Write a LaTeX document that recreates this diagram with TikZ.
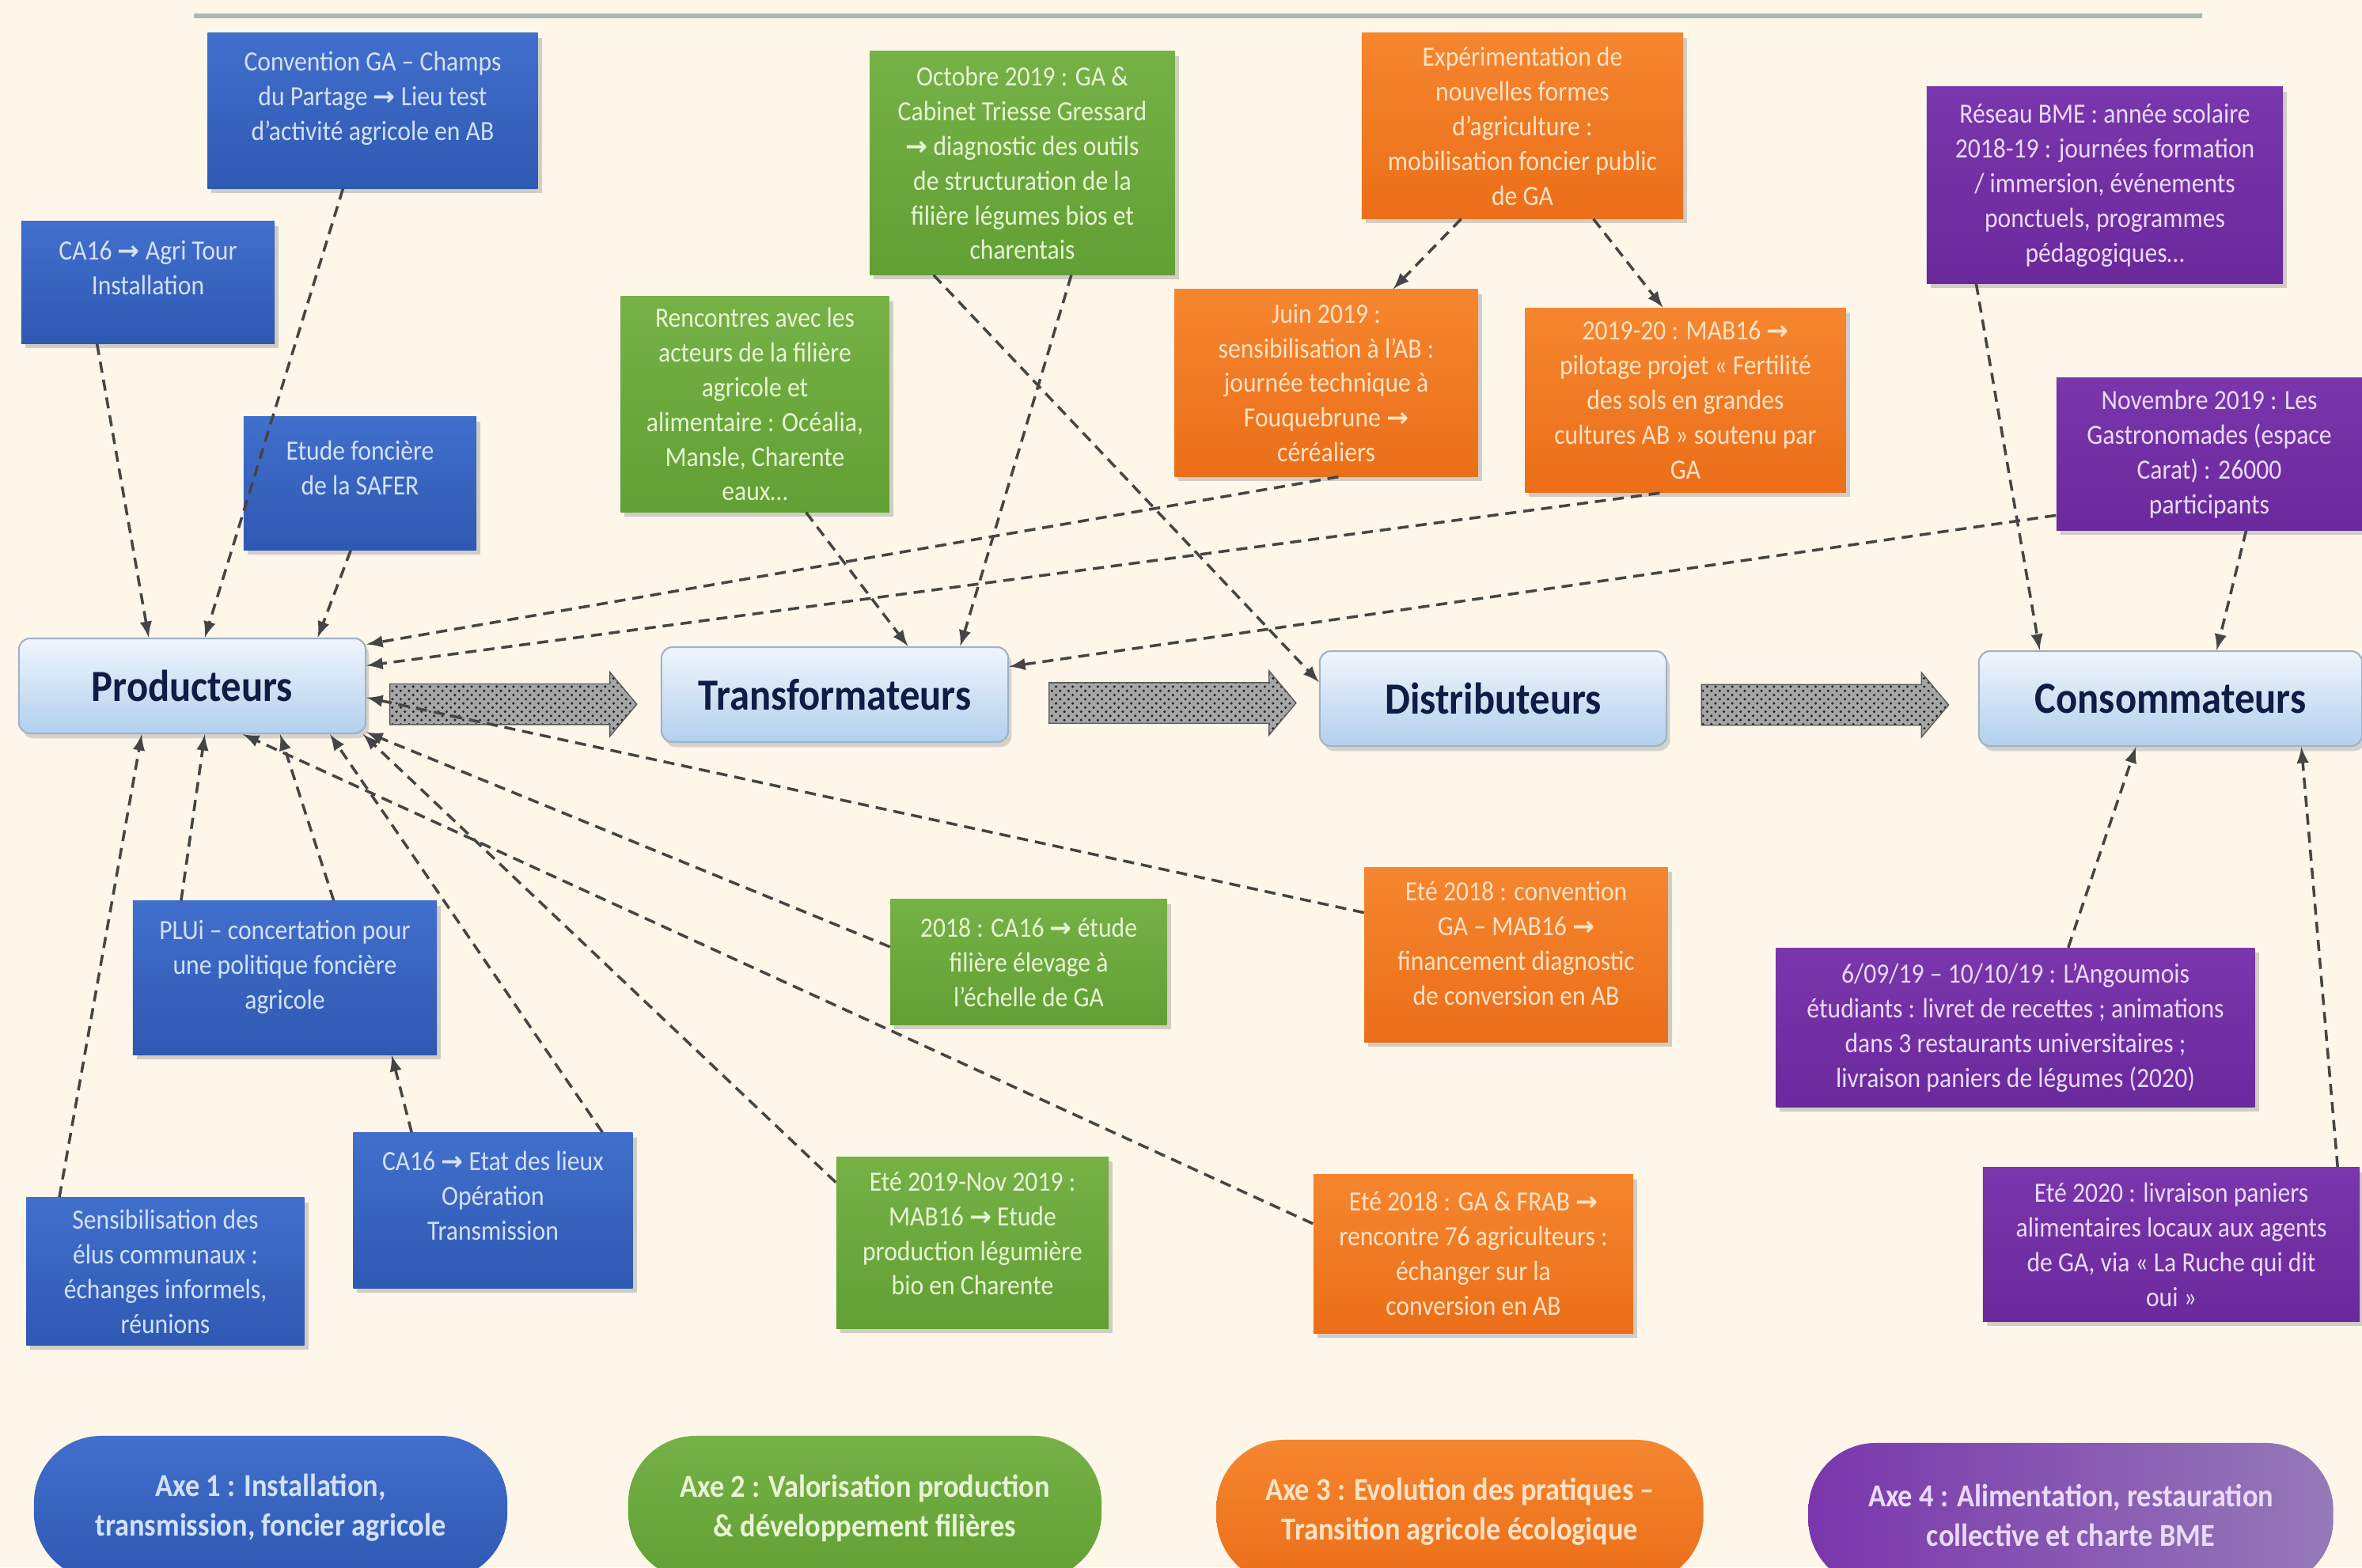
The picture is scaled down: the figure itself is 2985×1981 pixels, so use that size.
\documentclass[tikz,border=0pt]{standalone}
\usepackage{fontspec}
\setmainfont{Carlito}[FakeStretch=0.9]
\newfontfamily\symbfont{DejaVu Sans}
\usepackage{tikz}
\usetikzlibrary{calc}
\usetikzlibrary{shadows}
\usetikzlibrary{shapes.arrows}
\usetikzlibrary{patterns}

\definecolor{fond}{HTML}{FDF6E9}
\definecolor{trait}{HTML}{A9BAB4}
\definecolor{gristrait}{HTML}{454545}
\definecolor{bleuA}{HTML}{416FCC}
\definecolor{bleuB}{HTML}{2E59B3}
\definecolor{vertA}{HTML}{76B146}
\definecolor{vertB}{HTML}{61A034}
\definecolor{orangeA}{HTML}{F5862F}
\definecolor{orangeB}{HTML}{EC6E19}
\definecolor{violetA}{HTML}{7A36AC}
\definecolor{violetB}{HTML}{6A299C}
\definecolor{violetC}{HTML}{957AB8}
\definecolor{txtbleu}{HTML}{D3E1F7}
\definecolor{txtvert}{HTML}{E8F4D6}
\definecolor{txtorange}{HTML}{FDE2C4}
\definecolor{txtviolet}{HTML}{E9DAF7}
\definecolor{acteurHaut}{HTML}{F0F5FC}
\definecolor{acteurBas}{HTML}{B2D0EE}
\definecolor{cadre}{HTML}{9FB2C8}
\definecolor{marine}{HTML}{0F1C44}

\newcommand{\fl}{{\symbfont\bfseries\fontsize{9.5}{10}\selectfont →}}

\tikzset{
  fiche/.style={rectangle, align=center, inner sep=2pt,
    font=\fontsize{10}{12.5}\selectfont,
    drop shadow={shadow xshift=1.4pt, shadow yshift=-1.6pt, opacity=0.35}},
  remonte/.style={text depth=#1},
  axeun/.style={fiche, top color=bleuA, bottom color=bleuB, text=txtbleu},
  axedeux/.style={fiche, top color=vertA, bottom color=vertB, text=txtvert},
  axetrois/.style={fiche, top color=orangeA, bottom color=orangeB, text=txtorange},
  axequatre/.style={fiche, top color=violetA, bottom color=violetB, text=txtviolet},
  acteur/.style={rectangle, rounded corners=4pt, draw=cadre, line width=0.6pt,
    top color=acteurHaut, bottom color=acteurBas, text=marine,
    minimum width=4.38cm, minimum height=1.2cm,
    font=\fontsize{16}{19}\selectfont\bfseries,
    drop shadow={shadow xshift=1.2pt, shadow yshift=-1.8pt, opacity=0.3}},
  lien/.style={-latex, draw=gristrait, line width=1pt, dash pattern=on 4pt off 2.5pt},
  flux/.style={single arrow, single arrow head extend=0.15cm, single arrow tip angle=100,
    minimum height=3.12cm, inner xsep=0pt, inner ysep=0.25cm, draw=gray!70!black,
    preaction={fill=gray!70}, pattern=crosshatch dots, pattern color=black!85},
  pilule/.style={rectangle, rounded corners=0.85cm, minimum height=1.82cm, align=center,
    font=\fontsize{11.5}{14.2}\selectfont\bfseries}
}

\begin{document}
\begin{tikzpicture}[x=0.01cm, y=-0.01cm]
    \useasboundingbox (0,0) rectangle (2985,1981);
    \clip (0,0) rectangle (2985,1981);
    \fill[fond] (0,0) rectangle (2985,1981);
    \draw[trait, line width=1.7pt] (245,20) -- (2783,20);

    % acteurs de la chaine
    \node[acteur] (Producteurs) at (243,867) {Producteurs};
    \node[acteur] (Transformateurs) at (1055,878) {Transformateurs};
    \node[acteur] (Distributeurs) at (1887,883) {Distributeurs};
    \node[acteur, minimum width=4.84cm] (Consommateurs) at (2743,883) {Consommateurs};

    \node[flux] (FluxA) at ($(Producteurs.east)!0.47!(Transformateurs.west)+(0,18)$) {};
    \node[flux] (FluxB) at ($(Transformateurs.east)!0.5!(Distributeurs.west)+(0,8)$) {};
    \node[flux] (FluxC) at ($(Distributeurs.east)!0.48!(Consommateurs.west)+(0,8)$) {};

    % axe 1
    \node[axeun, remonte=0.38cm, minimum width=4.17cm, minimum height=1.96cm] (ConventionGA) at (471,140)
        {Convention GA -- Champs\\du Partage \fl{} Lieu test\\d’activité agricole en AB};
    \node[axeun, remonte=0.38cm, minimum width=3.2cm, minimum height=1.54cm] (AgriTour) at (187,357)
        {CA16 \fl{} Agri Tour\\Installation};
    \node[axeun, remonte=0.40cm, minimum width=2.94cm, minimum height=1.68cm] (EtudeSafer) at (455,611)
        {Etude foncière\\de la SAFER};
    \node[axeun, remonte=0.34cm, minimum width=3.84cm, minimum height=1.94cm] (PLUi) at (360,1236)
        {PLUi -- concertation pour\\une politique foncière\\agricole};
    \node[axeun, remonte=0.38cm, minimum width=3.53cm, minimum height=1.96cm] (EtatLieux) at (623,1530)
        {CA16 \fl{} Etat des lieux\\Opération\\Transmission};
    \node[axeun, minimum width=3.51cm, minimum height=1.86cm] (SensibElus) at (209,1607)
        {Sensibilisation des\\élus communaux :\\échanges informels,\\réunions};

    % axe 2
    \node[axedeux, minimum width=3.85cm, minimum height=2.82cm] (Octobre) at (1292,206)
        {Octobre 2019 : GA \&\\Cabinet Triesse Gressard\\\fl{} diagnostic des outils\\de structuration de la\\filière légumes bios et\\charentais};
    \node[axedeux, minimum width=3.39cm, minimum height=2.72cm] (Rencontres) at (954,511)
        {Rencontres avec les\\acteurs de la filière\\agricole et\\alimentaire : Océalia,\\Mansle, Charente\\eaux…};
    \node[axedeux, minimum width=3.49cm, minimum height=1.58cm] (EtudeElevage) at (1300,1216)
        {2018 : CA16 \fl{} étude\\filière élevage à\\l’échelle de GA};
    \node[axedeux, remonte=0.24cm, minimum width=3.44cm, minimum height=2.17cm] (EtudeLegumes) at (1229,1571)
        {Eté 2019-Nov 2019 :\\MAB16 \fl{} Etude\\production légumière\\bio en Charente};

    % axe 3
    \node[axetrois, minimum width=4.06cm, minimum height=2.34cm] (Experimentation) at (1924,159)
        {Expérimentation de\\nouvelles formes\\d’agriculture :\\mobilisation foncier public\\de GA};
    \node[axetrois, minimum width=3.83cm, minimum height=2.36cm] (Juin) at (1676,484)
        {Juin 2019 :\\sensibilisation à l’AB :\\journée technique à\\Fouquebrune \fl\\céréaliers};
    \node[axetrois, minimum width=4.05cm, minimum height=2.33cm] (Fertilite) at (2130,506)
        {2019-20 : MAB16 \fl\\pilotage projet « Fertilité\\des sols en grandes\\cultures AB » soutenu par\\GA};
    \node[axetrois, remonte=0.3cm, minimum width=3.83cm, minimum height=2.21cm] (ConventionMAB) at (1916,1207)
        {Eté 2018 : convention\\GA -- MAB16 \fl\\financement diagnostic\\de conversion en AB};
    \node[axetrois, minimum width=4.04cm, minimum height=2.0cm] (RencontreFRAB) at (1862,1585)
        {Eté 2018 : GA \& FRAB \fl\\rencontre 76 agriculteurs :\\échanger sur la\\conversion en AB};

    % axe 4
    \node[axequatre, minimum width=4.5cm, minimum height=2.48cm] (ReseauBME) at (2660,234)
        {Réseau BME : année scolaire\\2018-19 : journées formation\\/ immersion, événements\\ponctuels, programmes\\pédagogiques…};
    \node[axequatre, minimum width=3.86cm, minimum height=1.92cm] (Gastronomades) at (2792,574)
        {Novembre 2019 : Les\\Gastronomades (espace\\Carat) : 26000\\participants};
    \node[axequatre, minimum width=6.05cm, minimum height=2.01cm] (Angoumois) at (2547,1299)
        {6/09/19 -- 10/10/19 : L’Angoumois\\étudiants : livret de recettes ; animations\\dans 3 restaurants universitaires ;\\livraison paniers de légumes (2020)};
    \node[axequatre, minimum width=4.76cm, minimum height=1.94cm] (Ruche) at (2744,1573)
        {Eté 2020 : livraison paniers\\alimentaires locaux aux agents\\de GA, via « La Ruche qui dit\\oui »};

    % legende des axes
    \node[pilule, minimum width=5.98cm, top color=bleuA, bottom color=bleuB, text=txtbleu] (AxeUn) at (342,1906)
        {Axe 1 : Installation,\\transmission, foncier agricole};
    \node[pilule, minimum width=5.98cm, top color=vertA, bottom color=vertB, text=txtvert] (AxeDeux) at (1093,1906)
        {Axe 2 : Valorisation production\\\& développement filières};
    \node[pilule, minimum width=6.15cm, top color=orangeA, bottom color=orangeB, text=txtorange] (AxeTrois) at (1845,1911)
        {Axe 3 : Evolution des pratiques --\\Transition agricole écologique};
    \node[pilule, minimum width=6.63cm, left color=violetA, right color=violetC, text=txtviolet] (AxeQuatre) at (2617,1915)
        {Axe 4 : Alimentation, restauration\\collective et charte BME};

    % liens vers les producteurs
    \draw[lien] ($(AgriTour.south west)!0.30!(AgriTour.south east)$) -- ($(Producteurs.north west)!0.375!(Producteurs.north east)$);
    \draw[lien] ($(ConventionGA.south west)!0.41!(ConventionGA.south east)$) -- ($(Producteurs.north west)!0.536!(Producteurs.north east)$);
    \draw[lien] ($(EtudeSafer.south west)!0.46!(EtudeSafer.south east)$) -- ($(Producteurs.north west)!0.86!(Producteurs.north east)$);
    \draw[lien] ($(Juin.south west)!0.54!(Juin.south east)$) -- ($(Producteurs.north east)!0.07!(Producteurs.south east)$);
    \draw[lien] ($(Fertilite.south west)!0.42!(Fertilite.south east)$) -- ($(Producteurs.north east)!0.29!(Producteurs.south east)$);
    \draw[lien] ($(ConventionMAB.north west)!0.26!(ConventionMAB.south west)$) -- ($(Producteurs.north east)!0.62!(Producteurs.south east)$);
    \draw[lien] ($(EtudeElevage.north west)!0.38!(EtudeElevage.south west)$) -- ($(Producteurs.north east)!0.98!(Producteurs.south east)$);
    \draw[lien] ($(EtudeLegumes.north west)!0.15!(EtudeLegumes.south west)$) -- ($(Producteurs.south west)!0.99!(Producteurs.south east)$);
    \draw[lien] ($(RencontreFRAB.north west)!0.31!(RencontreFRAB.south west)$) -- ($(Producteurs.south west)!0.645!(Producteurs.south east)$);
    \draw[lien] ($(EtatLieux.north west)!0.89!(EtatLieux.north east)$) -- ($(Producteurs.south west)!0.895!(Producteurs.south east)$);
    \draw[lien] ($(EtatLieux.north west)!0.21!(EtatLieux.north east)$) -- ($(PLUi.south west)!0.85!(PLUi.south east)$);
    \draw[lien] ($(PLUi.north west)!0.16!(PLUi.north east)$) -- ($(Producteurs.south west)!0.536!(Producteurs.south east)$);
    \draw[lien] ($(PLUi.north west)!0.66!(PLUi.north east)$) -- ($(Producteurs.south west)!0.752!(Producteurs.south east)$);
    \draw[lien] ($(SensibElus.north west)!0.12!(SensibElus.north east)$) -- ($(Producteurs.south west)!0.355!(Producteurs.south east)$);

    % liens vers les autres acteurs
    \draw[lien] ($(Rencontres.south west)!0.69!(Rencontres.south east)$) -- ($(Transformateurs.north west)!0.71!(Transformateurs.north east)$);
    \draw[lien] ($(Octobre.south west)!0.66!(Octobre.south east)$) -- ($(Transformateurs.north west)!0.86!(Transformateurs.north east)$);
    \draw[lien] ($(Octobre.south west)!0.21!(Octobre.south east)$) -- ($(Distributeurs.north west)!0.33!(Distributeurs.south west)$);
    \draw[lien] ($(Gastronomades.north west)!0.9!(Gastronomades.south west)$) -- ($(Transformateurs.north east)!0.21!(Transformateurs.south east)$);
    \draw[lien] ($(Experimentation.south west)!0.31!(Experimentation.south east)$) -- ($(Juin.north west)!0.72!(Juin.north east)$);
    \draw[lien] ($(Experimentation.south west)!0.72!(Experimentation.south east)$) -- ($(Fertilite.north west)!0.43!(Fertilite.north east)$);
    \draw[lien] ($(ReseauBME.south west)!0.14!(ReseauBME.south east)$) -- ($(Consommateurs.north west)!0.16!(Consommateurs.north east)$);
    \draw[lien] ($(Gastronomades.south west)!0.62!(Gastronomades.south east)$) -- ($(Consommateurs.north west)!0.62!(Consommateurs.north east)$);
    \draw[lien] ($(Angoumois.north west)!0.61!(Angoumois.north east)$) -- ($(Consommateurs.south west)!0.41!(Consommateurs.south east)$);
    \draw[lien] ($(Ruche.north west)!0.94!(Ruche.north east)$) -- ($(Consommateurs.south west)!0.84!(Consommateurs.south east)$);
\end{tikzpicture}
\end{document}
